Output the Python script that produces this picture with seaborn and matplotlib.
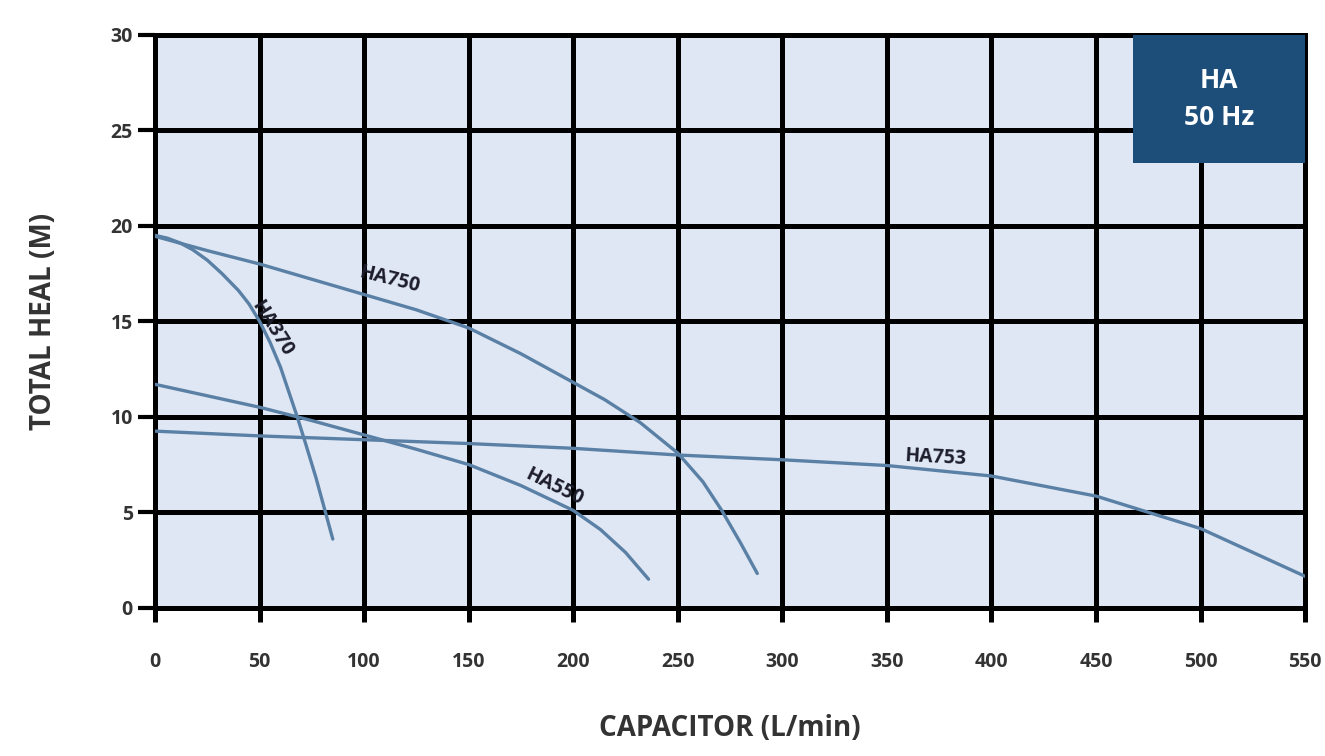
import pandas as pd
import seaborn as sns
import matplotlib.pyplot as plt
from matplotlib.patches import Rectangle

# Pump curves: flow (L/min) vs total head (m)
ha750_flow = [0, 25, 50, 75, 100, 125, 150, 175, 200, 215, 232, 250, 262, 271, 280, 288]
ha750_head = [19.45, 18.7, 18.0, 17.2, 16.4, 15.6, 14.65, 13.3, 11.8, 10.9, 9.7, 8.1, 6.6, 5.1, 3.4, 1.8]

ha370_flow = [0, 6, 12, 18, 25, 32, 40, 45, 50, 55, 60, 64, 68, 72, 77, 81, 85]
ha370_head = [19.5, 19.35, 19.1, 18.75, 18.2, 17.5, 16.6, 15.9, 15.0, 13.9, 12.6, 11.3, 10.0, 8.6, 6.8, 5.2, 3.6]

ha550_flow = [0, 25, 50, 75, 100, 125, 150, 175, 200, 213, 225, 236]
ha550_head = [11.7, 11.1, 10.5, 9.8, 9.05, 8.3, 7.5, 6.4, 5.1, 4.1, 2.9, 1.5]

ha753_flow = [0, 50, 100, 150, 200, 250, 300, 350, 400, 450, 475, 500, 525, 550]
ha753_head = [9.25, 9.0, 8.8, 8.6, 8.35, 8.0, 7.75, 7.45, 6.9, 5.85, 5.0, 4.15, 2.9, 1.65]

x_ticks = [0, 50, 100, 150, 200, 250, 300, 350, 400, 450, 500, 550]
y_ticks = [0, 5, 10, 15, 20, 25, 30]

# label text, position, rotation
labels = [
    ("HA750", 112, 17.2, -14),
    ("HA370", 56, 14.6, -58),
    ("HA550", 191, 6.3, -26),
    ("HA753", 373, 7.85, -3),
]

sns.set_theme(style="white")
plt.rcParams['font.family'] = ['Open Sans', 'DejaVu Sans']

fig = plt.figure(figsize=(13.25, 7.56), dpi=100)
ax = fig.add_axes([0.117, 0.196, 0.868, 0.758])
ax.set_facecolor('#dee7f3')

line_color = '#5a80a6'
curves = [(ha750_flow, ha750_head), (ha370_flow, ha370_head),
          (ha550_flow, ha550_head), (ha753_flow, ha753_head)]
for fx, fy in curves:
    df = pd.DataFrame({'flow': fx, 'head': fy})
    sns.lineplot(data=df, x='flow', y='head', sort=False, color=line_color,
                 linewidth=2.4, ax=ax, zorder=3)

ax.set_xlim(0, 550)
ax.set_ylim(0, 30)
ax.set_xticks(x_ticks)
ax.set_yticks(y_ticks)
ax.grid(True, color='black', linewidth=3.6)
ax.set_axisbelow(True)
for s in ax.spines.values():
    s.set_color('black')
    s.set_linewidth(3.6)

ax.tick_params(axis='x', bottom=True, direction='out', length=10, width=3.6, color='black',
               pad=22, labelsize=14, labelcolor='#333333')
ax.tick_params(axis='y', left=True, direction='out', length=12, width=3.0, color='black',
               pad=4, labelsize=14, labelcolor='#333333')
for t in ax.get_xticklabels() + ax.get_yticklabels():
    t.set_fontweight('bold')

ax.set_xlabel('CAPACITOR (L/min)', fontsize=20, fontweight='bold', color='#333333', labelpad=30)
ax.set_ylabel('TOTAL HEAL (M)', fontsize=20, fontweight='bold', color='#333333', labelpad=38)

for txt, lx, ly, rot in labels:
    ax.text(lx, ly, txt, rotation=rot, ha='center', va='center', fontsize=14,
            fontweight='bold', color='#1c1c2a', zorder=4, rotation_mode='anchor')

# series badge in top right corner
ax.add_patch(Rectangle((0.85, 0.777), 0.15, 0.223, transform=ax.transAxes,
                       facecolor='#1d4e79', edgecolor='none', zorder=5, clip_on=False))
ax.text(0.925, 0.888, 'HA\n50 Hz', transform=ax.transAxes, ha='center', va='center',
        fontsize=19, fontweight='bold', color='white', linespacing=1.5, zorder=6)

fig.savefig('out.png', dpi=100)
